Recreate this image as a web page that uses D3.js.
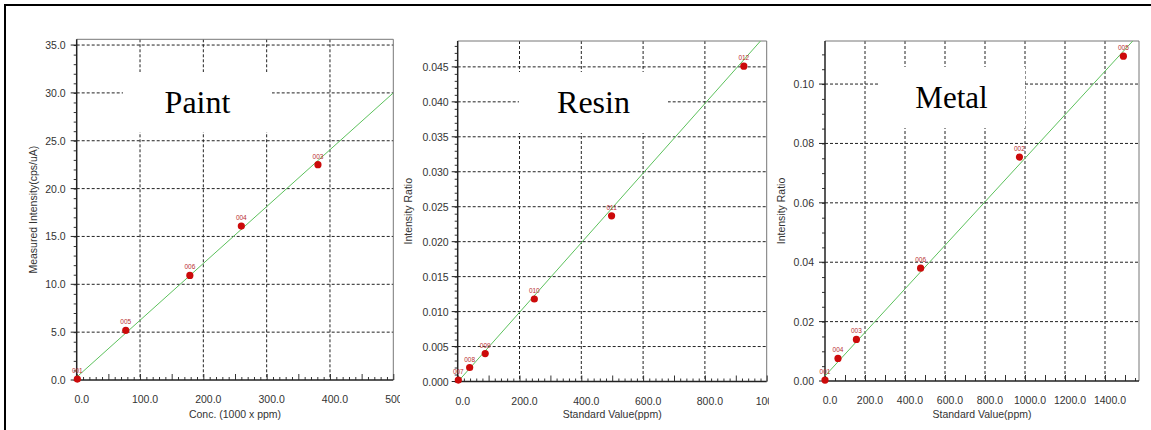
<!DOCTYPE html>
<html>
<head>
<meta charset="utf-8">
<script src="https://cdn.jsdelivr.net/npm/d3@7"></script>
<style>
  body { margin: 0; background: #fff; }
  svg { display: block; }
</style>
</head>
<body>
<div id="canvas"></div>
<script>
// Paint calibration
var paintX = [1, 77.5, 178.7, 260, 381];
var paintY = [0.1, 5.19, 10.93, 16.08, 22.5];
var paintIds = ["001", "005", "006", "004", "003"];
var paintFitX = [0, 500];
var paintFitY = [0.3, 30.0];
var paintXTicks = [0, 100, 200, 300, 400, 500];
var paintYTicks = [0, 5, 10, 15, 20, 25, 30, 35];

// Resin calibration
var resinX = [2, 38.7, 89, 248, 498, 926];
var resinY = [0.0002, 0.0020, 0.0040, 0.0118, 0.0237, 0.0451];
var resinIds = ["007", "008", "009", "010", "011", "012"];
var resinFitX = [0, 1000];
var resinFitY = [-0.00006, 0.0497];
var resinXTicks = [0, 200, 400, 600, 800, 1000];
var resinYTicks = [0, 0.005, 0.010, 0.015, 0.020, 0.025, 0.030, 0.035, 0.040, 0.045];

// Metal calibration
var metalX = [0, 65, 157, 478, 972, 1492];
var metalY = [0.0003, 0.0076, 0.0140, 0.0380, 0.0754, 0.1094];
var metalIds = ["001", "004", "003", "006", "002", "005"];
var metalFitX = [0, 1570];
var metalFitY = [0.0017, 0.1168];
var metalXTicks = [0, 200, 400, 600, 800, 1000, 1200, 1400];
var metalYTicks = [0, 0.02, 0.04, 0.06, 0.08, 0.10];

var W = 1151, H = 430;
var svg = d3.select('#canvas').append('svg')
    .attr('width', W).attr('height', H);

var panels = [
  { name: 'Paint', clip: [0, 400],
    xs: d3.scaleLinear().domain([0, 500]).range([76.7, 393.3]),
    ys: d3.scaleLinear().domain([0, 35.6]).range([380, 39.3]),
    px: paintX, py: paintY, ids: paintIds, fx: paintFitX, fy: paintFitY,
    xt: paintXTicks, yt: paintYTicks, xminor: 10, xmid: 50, yminor: 1,
    xfmt: d3.format('.1f'), yfmt: d3.format('.1f'),
    xtitle: 'Conc. (1000 x ppm)', ytitle: 'Measured Intensity(cps/uA)', ytx: 33, ylabGap: 11,
    box: [123, 72, 149, 60], fs: 32 },
  { name: 'Resin', clip: [400, 769],
    xs: d3.scaleLinear().domain([0, 1000]).range([457.7, 766.7]),
    ys: d3.scaleLinear().domain([0, 0.0487]).range([381.5, 41]),
    px: resinX, py: resinY, ids: resinIds, fx: resinFitX, fy: resinFitY,
    xt: resinXTicks, yt: resinYTicks, xminor: 20, xmid: 100, yminor: 0.001,
    xfmt: d3.format('.1f'), yfmt: d3.format('.3f'),
    xtitle: 'Standard Value(ppm)', ytitle: 'Intensity Ratio', ytx: 408, ylabGap: 9,
    box: [519, 72, 149, 61], fs: 32 },
  { name: 'Metal', clip: [769, 1151],
    xs: d3.scaleLinear().domain([0, 1570]).range([825, 1139]),
    ys: d3.scaleLinear().domain([0, 0.1145]).range([381, 41]),
    px: metalX, py: metalY, ids: metalIds, fx: metalFitX, fy: metalFitY,
    xt: metalXTicks, yt: metalYTicks, xminor: 50, xmid: 100, yminor: 0.005,
    xfmt: d3.format('.1f'), yfmt: d3.format('.2f'),
    xtitle: 'Standard Value(ppm)', ytitle: 'Intensity Ratio', ytx: 781, ylabGap: 11,
    box: [878, 67, 147, 61], fs: 31 }
];

panels.forEach(function(p, i) {
  svg.append('clipPath').attr('id', 'pc' + i)
    .append('rect').attr('x', p.clip[0]).attr('y', 0)
    .attr('width', p.clip[1] - p.clip[0]).attr('height', H);
  var x0 = p.xs.range()[0], x1 = p.xs.range()[1];
  var y0 = p.ys.range()[0], y1 = p.ys.range()[1];
  svg.append('clipPath').attr('id', 'plot' + i)
    .append('rect').attr('x', x0).attr('y', y1)
    .attr('width', x1 - x0).attr('height', y0 - y1);

  var g = svg.append('g').attr('clip-path', 'url(#pc' + i + ')');

  // grid
  g.selectAll('line.vg').data(p.xt.filter(function(d){ return d > 0 && p.xs(d) < x1 - 1; }))
    .enter().append('line')
    .attr('x1', function(d){ return p.xs(d); }).attr('x2', function(d){ return p.xs(d); })
    .attr('y1', y1).attr('y2', y0)
    .attr('stroke', '#222').attr('stroke-width', 1).attr('stroke-dasharray', '3,2');
  g.selectAll('line.hg').data(p.yt.filter(function(d){ return d > 0; }))
    .enter().append('line')
    .attr('x1', x0).attr('x2', x1)
    .attr('y1', function(d){ return p.ys(d); }).attr('y2', function(d){ return p.ys(d); })
    .attr('stroke', '#222').attr('stroke-width', 1).attr('stroke-dasharray', '3,2');

  // white label box with the sample name
  g.append('rect').attr('x', p.box[0]).attr('y', p.box[1])
    .attr('width', p.box[2]).attr('height', p.box[3]).attr('fill', '#fff');
  g.append('text').attr('x', p.box[0] + p.box[2] / 2).attr('y', p.box[1] + p.box[3] / 2 + p.fs * 0.33)
    .attr('text-anchor', 'middle')
    .style('font-family', '"Liberation Serif", "Times New Roman", serif')
    .style('font-size', p.fs + 'px').attr('fill', '#000')
    .text(p.name);

  // frame: top/right lighter
  g.append('line').attr('x1', x0).attr('x2', x1).attr('y1', y1).attr('y2', y1)
    .attr('stroke', '#777').attr('stroke-width', 1);
  g.append('line').attr('x1', x1).attr('x2', x1).attr('y1', y1).attr('y2', y0)
    .attr('stroke', '#777').attr('stroke-width', 1);

  // x axis: ticks point inward (up)
  var xAxis = d3.axisBottom(p.xs).tickValues(d3.range(0, p.xs.domain()[1] + 0.001, p.xminor))
    .tickSize(-3).tickFormat('');
  var xa = g.append('g').attr('transform', 'translate(0,' + y0 + ')').call(xAxis);
  xa.select('.domain').remove();
  xa.selectAll('.tick line').attr('stroke', '#333')
    .attr('y2', function(d){ return (Math.abs(d % p.xmid) < 1e-6) ? -6 : -3; });
  g.append('line').attr('x1', x0).attr('x2', x1).attr('y1', y0).attr('y2', y0)
    .attr('stroke', '#222').attr('stroke-width', 1.5);
  g.selectAll('text.xl').data(p.xt).enter().append('text')
    .attr('x', function(d){ return p.xs(d) + 5; }).attr('y', y0 + 23)
    .attr('text-anchor', 'middle')
    .style('font-family', '"Liberation Sans", Arial, sans-serif').style('font-size', '10.5px')
    .attr('fill', '#333').text(function(d){ return p.xfmt(d); });
  g.append('text').attr('x', (x0 + x1) / 2).attr('y', 418).attr('text-anchor', 'middle')
    .style('font-family', '"Liberation Sans", Arial, sans-serif').style('font-size', '10.5px')
    .attr('fill', '#333').text(p.xtitle);

  // y axis: ticks point outward (left)
  var yAxis = d3.axisLeft(p.ys).tickValues(d3.range(0, p.ys.domain()[1], p.yminor))
    .tickSize(3).tickFormat('');
  var ya = g.append('g').attr('transform', 'translate(' + x0 + ',0)').call(yAxis);
  ya.select('.domain').remove();
  ya.selectAll('.tick line').attr('stroke', '#333');
  g.selectAll('line.ymaj').data(p.yt).enter().append('line')
    .attr('x1', x0 - 6).attr('x2', x0)
    .attr('y1', function(d){ return p.ys(d); }).attr('y2', function(d){ return p.ys(d); })
    .attr('stroke', '#222');
  g.append('line').attr('x1', x0).attr('x2', x0).attr('y1', y1).attr('y2', y0)
    .attr('stroke', '#222').attr('stroke-width', 1.5);
  g.selectAll('text.yl').data(p.yt).enter().append('text')
    .attr('x', x0 - p.ylabGap).attr('y', function(d){ return p.ys(d) + 4; })
    .attr('text-anchor', 'end')
    .style('font-family', '"Liberation Sans", Arial, sans-serif').style('font-size', '10.5px')
    .attr('fill', '#333').text(function(d){ return p.yfmt(d); });
  g.append('text')
    .attr('transform', 'translate(' + p.ytx + ',' + ((y0 + y1) / 2) + ') rotate(-90)')
    .attr('text-anchor', 'middle').attr('dy', '0.35em')
    .style('font-family', '"Liberation Sans", Arial, sans-serif').style('font-size', '10.5px')
    .attr('fill', '#333').text(p.ytitle);

  // fitted calibration line
  var line = d3.line().x(function(d){ return p.xs(d[0]); }).y(function(d){ return p.ys(d[1]); });
  g.append('path').datum(d3.zip(p.fx, p.fy))
    .attr('clip-path', 'url(#plot' + i + ')')
    .attr('d', line).attr('fill', 'none').attr('stroke', '#5cc15c').attr('stroke-width', 1);

  // standards
  var pts = d3.zip(p.px, p.py, p.ids);
  g.selectAll('circle.pt').data(pts).enter().append('circle')
    .attr('cx', function(d){ return p.xs(d[0]); }).attr('cy', function(d){ return p.ys(d[1]); })
    .attr('r', 3.6).attr('fill', '#cc0a0a');
  g.selectAll('text.pid').data(pts).enter().append('text')
    .attr('x', function(d){ return p.xs(d[0]); }).attr('y', function(d){ return p.ys(d[1]) - 6; })
    .attr('text-anchor', 'middle')
    .style('font-family', '"Liberation Sans", Arial, sans-serif').style('font-size', '6.5px')
    .attr('fill', '#b83030').text(function(d){ return d[2]; });
});

// outer frame
svg.append('line').attr('x1', 4).attr('x2', W).attr('y1', 5).attr('y2', 5)
  .attr('stroke', '#000').attr('stroke-width', 2);
svg.append('line').attr('x1', 5).attr('x2', 5).attr('y1', 4).attr('y2', H)
  .attr('stroke', '#000').attr('stroke-width', 2);
</script>
</body>
</html>
